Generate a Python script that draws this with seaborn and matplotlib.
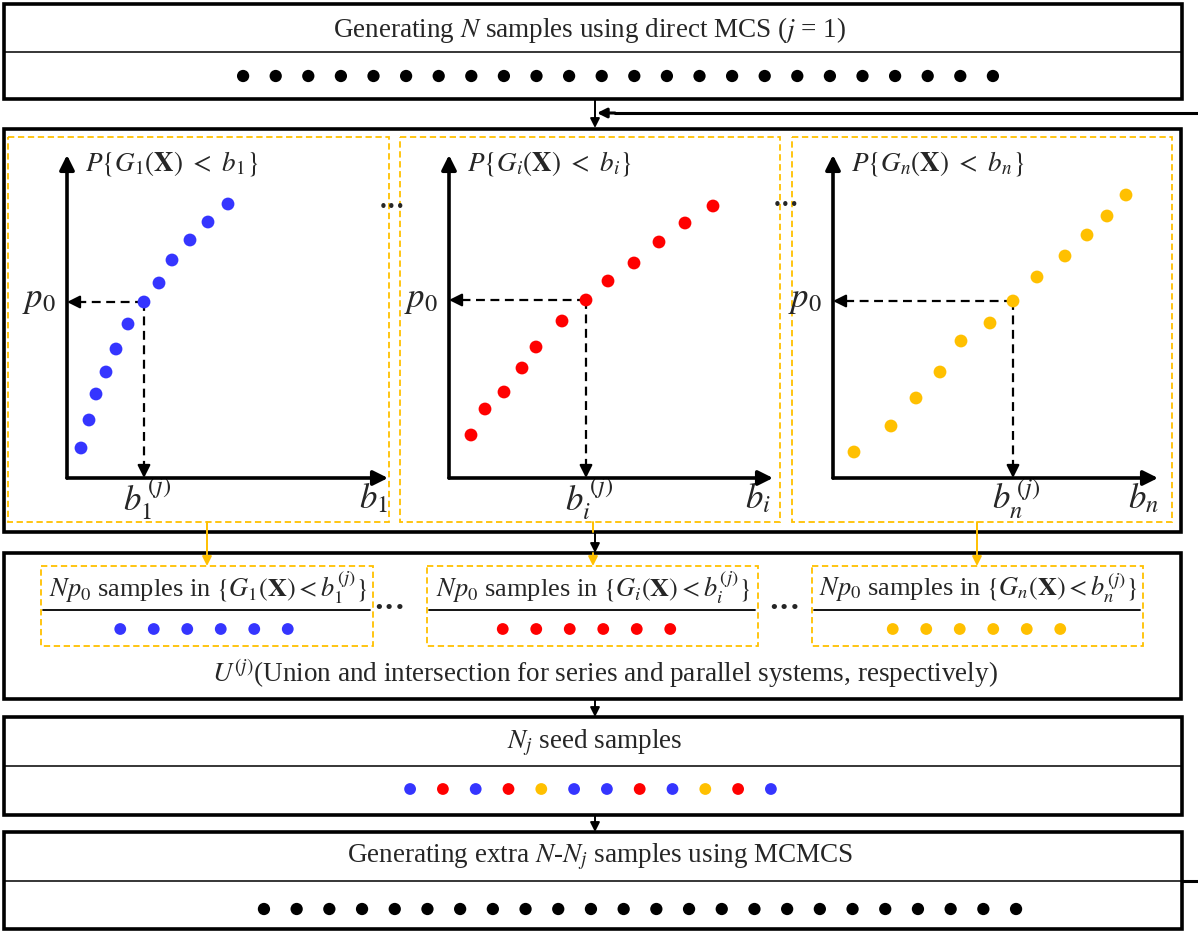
import numpy as np
import pandas as pd
import matplotlib
matplotlib.use("Agg")
import matplotlib.pyplot as plt
from matplotlib.patches import Rectangle
import seaborn as sns

# ---------------------------------------------------------------------------
# Data
# ---------------------------------------------------------------------------
# Sorted samples of each component response: threshold b and empirical P{G(X) < b}
b_comp1 = [14, 22, 29, 39, 49, 61, 77, 92, 105, 123, 141, 161]
p_comp1 = [30, 58, 84, 106, 129, 154, 176, 195, 218, 238, 256, 274]
b_comp_i = [22, 36, 55, 73, 87, 113, 137, 159, 185, 210, 236, 264]
p_comp_i = [43, 69, 86, 110, 131, 157, 178, 197, 215, 236, 255, 272]
b_comp_n = [21, 58, 83, 107, 128, 157, 180, 204, 232, 254, 274, 293]
p_comp_n = [26, 52, 80, 106, 137, 155, 177, 201, 222, 243, 262, 283]
p0_index = 6  # sample sitting on the p0 quantile -> intermediate threshold b^(j)

component_names = ["1", "i", "n"]
component_colors = ["blue", "red", "yellow"]

n_direct = 24          # samples of direct MCS
n_selected = 6         # Np0 samples kept per component
seed_colors = ["blue", "red", "blue", "red", "yellow", "blue",
               "blue", "red", "blue", "yellow", "red", "blue"]
n_extra = 24           # extra samples from MCMC

palette = {"blue": "#3535FF", "red": "#FF0000", "yellow": "#FFC000", "black": "#000000"}
ORANGE = "#FFC000"

# ---------------------------------------------------------------------------
# Figure setup (work in pixel units on a full-figure axes)
# ---------------------------------------------------------------------------
sns.set_theme(style="white")
plt.rcParams["font.family"] = ["Liberation Serif", "DejaVu Serif"]
plt.rcParams["mathtext.fontset"] = "stix"

W, H = 1198, 931
FS = 19.5
fig = plt.figure(figsize=(W / 100, H / 100), dpi=100)
ax = fig.add_axes([0, 0, 1, 1])
ax.set_xlim(0, W)
ax.set_ylim(H, 0)
ax.axis("off")


def px_axes(x0, y0, x1, y1):
    a = fig.add_axes([x0 / W, 1 - y1 / H, (x1 - x0) / W, (y1 - y0) / H])
    a.patch.set_visible(False)
    a.axis("off")
    return a


def box(x0, y0, x1, y1, lw=2.6, color="black", ls="-", z=2):
    ax.add_patch(Rectangle((x0, y0), x1 - x0, y1 - y0, fill=False, lw=lw,
                           edgecolor=color, linestyle=ls, zorder=z))


def arrow(x0, y0, x1, y1, color="black", lw=1.4, ms=14):
    ax.annotate("", xy=(x1, y1), xytext=(x0, y0),
                arrowprops=dict(arrowstyle="-|>", color=color, lw=lw,
                                mutation_scale=ms, shrinkA=0, shrinkB=0),
                zorder=4)


def dot_row(colors, cx, cy, spacing, size):
    n = len(colors)
    a = px_axes(cx - n * spacing / 2, cy - 10, cx + n * spacing / 2, cy + 10)
    df = pd.DataFrame({"k": np.arange(n), "v": np.zeros(n), "c": colors})
    sns.scatterplot(data=df, x="k", y="v", hue="c", palette=palette, s=size,
                    edgecolor="none", legend=False, ax=a, clip_on=False)
    a.set_xlim(-0.5, n - 0.5)
    a.set_ylim(-1, 1)
    a.axis("off")


def ellipsis(x, y, size):
    ax.text(x, y, "•••", ha="center", va="center", fontsize=size,
            family="DejaVu Sans", zorder=5)


dash_orange = (0, (3.5, 2))

# ---------------------------------------------------------------------------
# Step 1: direct MCS
# ---------------------------------------------------------------------------
box(4, 4, 1182, 99)
ax.plot([4, 1182], [52, 52], color="black", lw=1.1)
ax.text(590, 30, r"Generating $N$ samples using direct MCS ($j$ = 1)",
        ha="center", va="center", fontsize=FS)
dot_row(["black"] * n_direct, 618, 76, 32.6, 78)

arrow(595, 99, 595, 128)
ax.plot([1198, 615], [113, 113], color="black", lw=2.2)
arrow(615, 113, 597, 113, lw=2.2, ms=14)

# ---------------------------------------------------------------------------
# Step 2: component CDFs and intermediate thresholds
# ---------------------------------------------------------------------------
box(4, 129, 1181, 532)
panel_frames = [(8, 389), (400, 780), (792, 1172)]
origins = [(67, 478, 388, 155), (449, 478, 773, 155), (833, 478, 1158, 155)]
b_sets = [b_comp1, b_comp_i, b_comp_n]
p_sets = [p_comp1, p_comp_i, p_comp_n]

for k in range(3):
    fx0, fx1 = panel_frames[k]
    box(fx0, 137, fx1, 522, lw=1.3, color=ORANGE, ls=dash_orange)
    ox, oy, tx, ty = origins[k]
    wpx, hpx = tx - ox, oy - ty
    pa = px_axes(ox, ty, tx, oy)
    pa.set_xlim(0, wpx)
    pa.set_ylim(0, hpx)
    # axes with arrow tips
    for xy in [(wpx, 0), (0, hpx)]:
        pa.annotate("", xy=xy, xytext=(0, 0),
                    arrowprops=dict(arrowstyle="-|>", color="black", lw=2.6,
                                    mutation_scale=22, shrinkA=0, shrinkB=0),
                    annotation_clip=False)
    df = pd.DataFrame({"b": b_sets[k], "P": p_sets[k]})
    sns.scatterplot(data=df, x="b", y="P", color=palette[component_colors[k]],
                    s=85, edgecolor="none", ax=pa, clip_on=False, zorder=3)
    pa.axis("off")
    bq, pq = b_sets[k][p0_index], p_sets[k][p0_index]
    pa.plot([bq, 10], [pq, pq], color="black", lw=1.6, ls=(0, (4, 2.5)), zorder=2)
    pa.plot([bq, bq], [pq, 10], color="black", lw=1.6, ls=(0, (4, 2.5)), zorder=2)
    for xy, xyt in [((0, pq), (12, pq)), ((bq, 0), (bq, 12))]:
        pa.annotate("", xy=xy, xytext=xyt,
                    arrowprops=dict(arrowstyle="-|>", color="black", lw=1.6,
                                    mutation_scale=19, shrinkA=0, shrinkB=0),
                    annotation_clip=False)
    name = component_names[k]
    ax.text(ox + 18, 163, r"$P\{G_{%s}(\mathbf{X})\ <\ b_{%s}\}$" % (name, name),
            ha="left", va="center", fontsize=FS)
    ax.text(ox - 28, 299, r"$p_0$", ha="center", va="center", fontsize=25)
    ax.text(ox + bq + 3, 499, r"$b_{%s}^{\,(j)}$" % name, ha="center", va="center", fontsize=25)
    ax.text(tx - 15, 499, r"$b_{%s}$" % name, ha="center", va="center", fontsize=25)

ellipsis(392, 207, 11)
ellipsis(786, 205, 11)

# connectors between step 2 and step 3
ax.plot([593, 593], [522, 532], color=ORANGE, lw=1.4)
arrow(595, 532, 595, 553)
arrow(593, 553, 593, 566, color=ORANGE)
arrow(207, 522, 207, 566, color=ORANGE)
arrow(977, 522, 977, 566, color=ORANGE)

# ---------------------------------------------------------------------------
# Step 3: samples falling below each threshold
# ---------------------------------------------------------------------------
box(4, 553, 1181, 699)
sub_frames = [(41, 373), (427, 758), (812, 1143)]
sub_dot_centers = [204, 586.5, 976.5]
for k in range(3):
    sx0, sx1 = sub_frames[k]
    box(sx0, 566, sx1, 646, lw=1.3, color=ORANGE, ls=dash_orange)
    name = component_names[k]
    ax.text((sx0 + sx1) / 2 + 1, 588,
            r"$Np_0$ samples in $\{G_{%s}(\mathbf{X}) < b_{%s}^{(j)}\}$" % (name, name),
            ha="center", va="center", fontsize=19)
    ax.plot([sx0 + 2, sx1 - 3], [610, 610], color="black", lw=1.3)
    dot_row([component_colors[k]] * n_selected, sub_dot_centers[k], 629, 33.5, 72)

ellipsis(389, 608, 13)
ellipsis(784, 608, 13)
ax.text(605, 673,
        r"$U^{(j)}$(Union and intersection for series and parallel systems, respectively)",
        ha="center", va="center", fontsize=FS)

arrow(595, 699, 595, 717)

# ---------------------------------------------------------------------------
# Step 4: seeds
# ---------------------------------------------------------------------------
box(4, 717, 1182, 815)
ax.plot([4, 1182], [766, 766], color="black", lw=1.1)
ax.text(595, 743, r"$N_j$ seed samples", ha="center", va="center", fontsize=FS)
dot_row(seed_colors, 590.5, 789, 32.8, 72)

arrow(595, 815, 595, 832)

# ---------------------------------------------------------------------------
# Step 5: MCMC
# ---------------------------------------------------------------------------
box(4, 832, 1182, 929)
ax.plot([4, 1182], [881, 881], color="black", lw=1.1)
ax.plot([1182, 1198], [881, 881], color="black", lw=2.2)
ax.text(600, 857, r"Generating extra $N$-$N_j$ samples using MCMCS",
        ha="center", va="center", fontsize=FS)
dot_row(["black"] * n_extra, 640, 909, 32.7, 78)

fig.savefig("out.png", dpi=100)
